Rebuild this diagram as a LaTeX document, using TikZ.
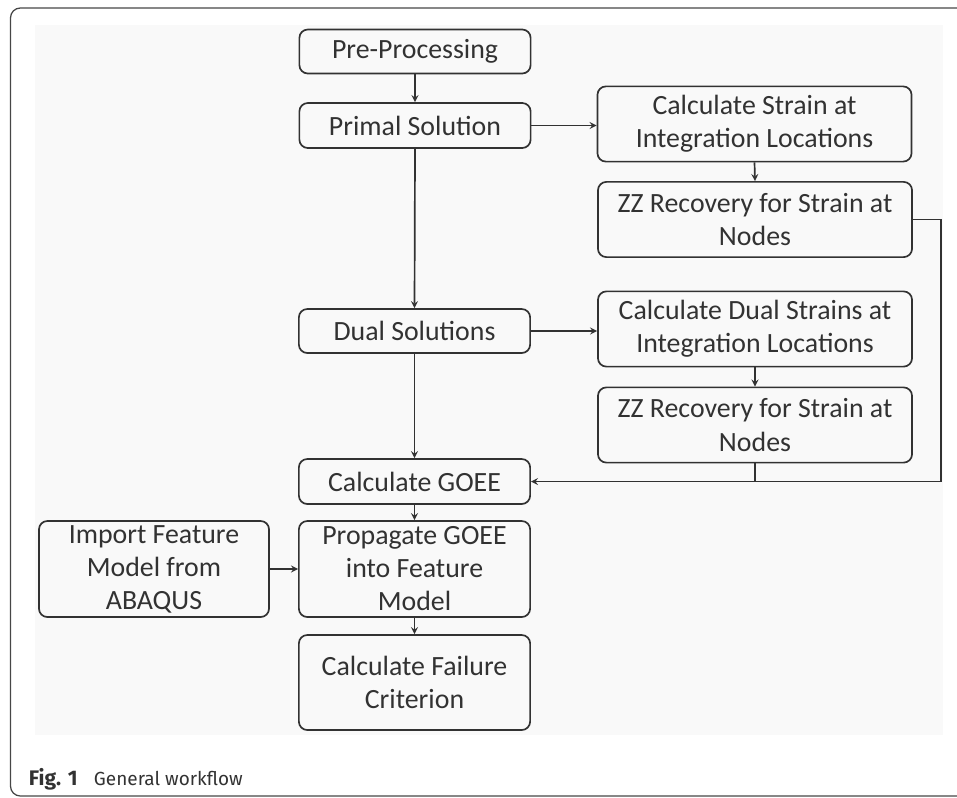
\documentclass[tikz,border=0pt]{standalone}
\usepackage{fontspec}
\setmainfont{Carlito}
\newfontfamily\capfont{Fira Sans}
\definecolor{framegray}{RGB}{70,70,70}
\definecolor{boxgray}{RGB}{50,50,50}
\definecolor{panelgray}{RGB}{249,249,249}
\usepackage{tikz}
\usetikzlibrary{arrows,positioning}

\begin{document}
\begin{tikzpicture}[x=0.025cm, y=-0.025cm,
			wbox/.style={draw=boxgray, line width=1.2pt, rounded corners=6pt,
				minimum width=5.78cm, minimum height=1.1cm, align=center,
				inner sep=0pt, text=boxgray, font=\fontsize{19.8}{23.5}\selectfont},
			widebox/.style={wbox, minimum width=7.85cm, minimum height=1.88cm},
			arrow/.style={-stealth, line width=1.2pt, boxgray},
			captext/.style={anchor=base west, text=boxgray, font=\capfont\fontsize{13.5}{16}\selectfont}
		]
			\useasboundingbox (0,0) rectangle (957,797);
			% frame and panel
			\draw[framegray, line width=0.9pt, rounded corners=7pt] (10.5,8) rectangle (990,796);
			\fill[panelgray] (35,25) rectangle (943,735);
			% left column
			\node[wbox] (pre) at (415,51.5) {Pre-Processing};
			\node[wbox, minimum height=1.125cm] (primal) at (415,125.5) {Primal Solution};
			\node[wbox] (dual) at (414.5,331) {Dual Solutions};
			\node[wbox, minimum height=1.125cm] (goee) at (414.5,481.5) {Calculate GOEE};
			\node[wbox, minimum height=2.4cm] (prop) at (414.5,569) {Propagate GOEE\\into Feature\\Model};
			\node[wbox, minimum height=2.375cm] (fail) at (414.5,682.5) {Calculate Failure\\Criterion};
			\node[wbox, minimum width=5.75cm, minimum height=2.4cm] (imp) at (154,569) {Import Feature\\Model from\\ABAQUS};
			% right column
			\node[widebox] (strain) at (754.5,124) {Calculate Strain at\\Integration Locations};
			\node[widebox] (zz1) at (755,219.5) {ZZ Recovery for Strain at\\Nodes};
			\node[widebox] (dstrain) at (755,329) {Calculate Dual Strains at\\Integration Locations};
			\node[widebox] (zz2) at (755,425) {ZZ Recovery for Strain at\\Nodes};
			% connectors
			\draw[arrow] (pre.south) -- (primal.north);
			\draw[arrow] (primal.south) -- (dual.north);
			\draw[arrow] (dual.south) -- (goee.north);
			\draw[arrow] (goee.south) -- (prop.north);
			\draw[arrow] (prop.south) -- (fail.north);
			\draw[arrow] (imp.east) -- (prop.west);
			\draw[arrow] (primal.east) -- (primal.east -| strain.west);
			\draw[arrow] (dual.east) -- (dual.east -| dstrain.west);
			\draw[arrow] (strain.south) -- (zz1.north);
			\draw[arrow] (dstrain.south) -- (zz2.north);
			\draw[arrow] (zz1.east) -- ++(28,0) |- (goee.east);
			\draw[line width=1.2pt, boxgray] (zz2.south) -- (zz2.south |- goee.east);
			% caption
			\node[captext, font=\capfont\bfseries\fontsize{15}{18}\selectfont] (fig) at (24,785) {Fig. 1};
			\node[captext] (title) at (89,785) {General workflow};
		\end{tikzpicture}
\end{document}
